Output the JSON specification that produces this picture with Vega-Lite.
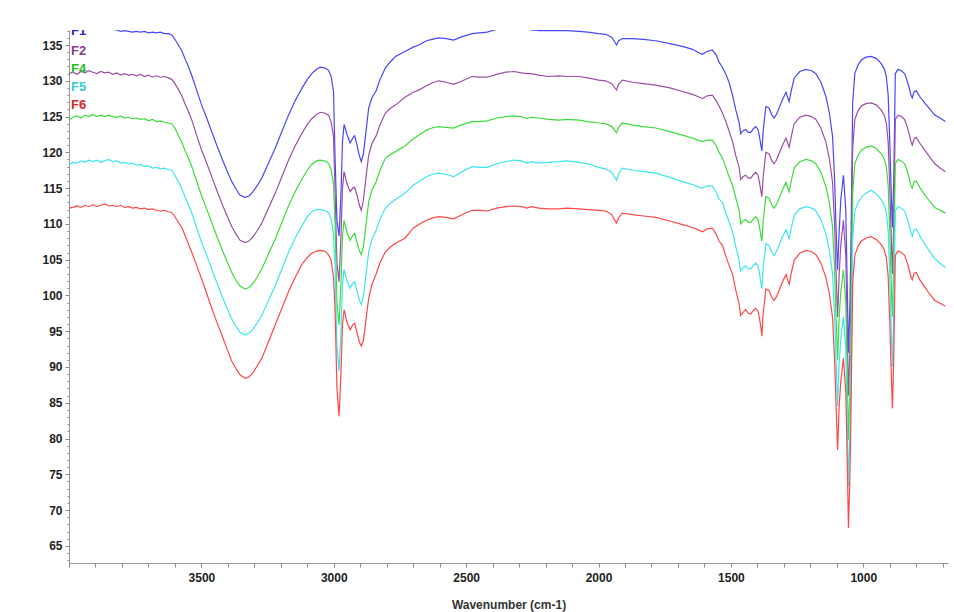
{
"$schema": "https://vega.github.io/schema/vega-lite/v6.json",
"width": 879, "height": 533,
"autosize": {"type": "none"},
"padding": {"left": 69, "top": 30, "right": 6, "bottom": 49},
"background": "white",
"config": {"view": {"stroke": null}, "font": "Liberation Sans", "axis": {"labelOverlap": false}},
"datasets": {
"spectra": [
{"x":4000,"F1":137.6,"F2":131.0,"F4":124.5,"F5":118.3,"F6":112.2},
{"x":3985,"F1":137.5,"F2":131.2,"F4":124.9,"F5":118.6,"F6":112.3},
{"x":3970,"F1":137.6,"F2":130.9,"F4":125.1,"F5":118.5,"F6":112.5},
{"x":3955,"F1":137.4,"F2":131.3,"F4":124.8,"F5":118.8,"F6":112.3},
{"x":3940,"F1":137.5,"F2":131.1,"F4":125.2,"F5":118.6,"F6":112.6},
{"x":3925,"F1":137.6,"F2":131.4,"F4":125.0,"F5":118.9,"F6":112.4},
{"x":3910,"F1":137.4,"F2":131.2,"F4":125.3,"F5":118.7,"F6":112.7},
{"x":3895,"F1":137.5,"F2":131.0,"F4":125.0,"F5":118.9,"F6":112.4},
{"x":3880,"F1":137.3,"F2":131.3,"F4":125.2,"F5":118.6,"F6":112.6},
{"x":3865,"F1":137.4,"F2":131.1,"F4":125.0,"F5":118.8,"F6":112.8},
{"x":3850,"F1":137.3,"F2":131.2,"F4":125.2,"F5":119.0,"F6":112.5},
{"x":3835,"F1":137.2,"F2":130.9,"F4":125.0,"F5":118.7,"F6":112.6},
{"x":3820,"F1":137.1,"F2":131.1,"F4":124.9,"F5":118.8,"F6":112.4},
{"x":3805,"F1":136.9,"F2":130.8,"F4":125.1,"F5":118.5,"F6":112.6},
{"x":3790,"F1":137.0,"F2":131.0,"F4":124.8,"F5":118.6,"F6":112.3},
{"x":3775,"F1":136.9,"F2":130.8,"F4":124.9,"F5":118.4,"F6":112.4},
{"x":3760,"F1":136.8,"F2":130.9,"F4":124.7,"F5":118.5,"F6":112.2},
{"x":3745,"F1":136.9,"F2":130.7,"F4":124.8,"F5":118.2,"F6":112.3},
{"x":3730,"F1":136.8,"F2":130.9,"F4":124.6,"F5":118.3,"F6":112.1},
{"x":3715,"F1":136.9,"F2":130.6,"F4":124.7,"F5":118.0,"F6":112.2},
{"x":3700,"F1":136.7,"F2":130.8,"F4":124.4,"F5":118.1,"F6":112.0},
{"x":3685,"F1":136.8,"F2":130.5,"F4":124.6,"F5":117.8,"F6":112.1},
{"x":3670,"F1":136.7,"F2":130.7,"F4":124.3,"F5":117.9,"F6":111.9},
{"x":3655,"F1":136.8,"F2":130.5,"F4":124.4,"F5":117.7,"F6":111.8},
{"x":3640,"F1":136.6,"F2":130.6,"F4":124.2,"F5":117.8,"F6":111.9},
{"x":3625,"F1":136.6,"F2":130.4,"F4":124.1,"F5":117.6,"F6":111.7},
{"x":3612,"F1":136.4,"F2":130.2,"F4":124.0,"F5":117.5,"F6":111.6},
{"x":3600,"F1":135.8,"F2":129.6,"F4":123.4,"F5":116.8,"F6":111.0},
{"x":3587,"F1":135.0,"F2":128.8,"F4":122.4,"F5":115.9,"F6":110.2},
{"x":3574,"F1":134.2,"F2":127.9,"F4":121.4,"F5":114.9,"F6":109.5},
{"x":3562,"F1":133.1,"F2":126.8,"F4":120.3,"F5":113.8,"F6":108.4},
{"x":3549,"F1":132.0,"F2":125.7,"F4":119.2,"F5":112.7,"F6":107.2},
{"x":3537,"F1":130.8,"F2":124.6,"F4":118.1,"F5":111.6,"F6":106.1},
{"x":3518,"F1":128.7,"F2":122.4,"F4":116.0,"F5":109.5,"F6":104.2},
{"x":3499,"F1":126.6,"F2":120.3,"F4":113.9,"F5":107.4,"F6":102.3},
{"x":3480,"F1":124.8,"F2":118.5,"F4":112.1,"F5":105.6,"F6":100.3},
{"x":3461,"F1":122.9,"F2":116.6,"F4":110.2,"F5":103.7,"F6":98.2},
{"x":3442,"F1":121.0,"F2":114.7,"F4":108.3,"F5":101.8,"F6":96.3},
{"x":3423,"F1":119.2,"F2":112.9,"F4":106.5,"F5":100.0,"F6":94.5},
{"x":3404,"F1":117.5,"F2":111.2,"F4":104.8,"F5":98.3,"F6":92.6},
{"x":3385,"F1":115.9,"F2":109.6,"F4":103.2,"F5":96.7,"F6":90.8},
{"x":3368,"F1":114.8,"F2":108.5,"F4":102.0,"F5":95.6,"F6":89.7},
{"x":3354,"F1":114.0,"F2":107.7,"F4":101.3,"F5":94.8,"F6":88.9},
{"x":3335,"F1":113.7,"F2":107.4,"F4":100.9,"F5":94.5,"F6":88.4},
{"x":3320,"F1":113.9,"F2":107.6,"F4":101.1,"F5":94.7,"F6":88.6},
{"x":3305,"F1":114.5,"F2":108.2,"F4":101.7,"F5":95.3,"F6":89.2},
{"x":3290,"F1":115.3,"F2":109.0,"F4":102.5,"F5":96.1,"F6":90.1},
{"x":3272,"F1":116.4,"F2":110.1,"F4":103.7,"F5":97.2,"F6":91.2},
{"x":3250,"F1":118.2,"F2":111.9,"F4":105.5,"F5":99.0,"F6":93.2},
{"x":3221,"F1":120.6,"F2":114.3,"F4":107.9,"F5":101.4,"F6":95.9},
{"x":3196,"F1":122.9,"F2":116.6,"F4":110.2,"F5":103.7,"F6":98.2},
{"x":3171,"F1":125.2,"F2":118.9,"F4":112.5,"F5":106.0,"F6":100.5},
{"x":3146,"F1":127.2,"F2":120.9,"F4":114.5,"F5":108.0,"F6":102.5},
{"x":3121,"F1":128.9,"F2":122.6,"F4":116.2,"F5":109.7,"F6":104.3},
{"x":3100,"F1":130.2,"F2":123.9,"F4":117.5,"F5":111.0,"F6":105.3},
{"x":3083,"F1":131.0,"F2":124.7,"F4":118.3,"F5":111.7,"F6":105.9},
{"x":3065,"F1":131.6,"F2":125.3,"F4":118.8,"F5":112.0,"F6":106.2},
{"x":3051,"F1":131.9,"F2":125.6,"F4":118.9,"F5":112.0,"F6":106.3},
{"x":3035,"F1":131.8,"F2":125.5,"F4":118.8,"F5":111.9,"F6":106.2},
{"x":3020,"F1":131.5,"F2":125.2,"F4":118.5,"F5":111.6,"F6":105.7},
{"x":3010,"F1":130.6,"F2":124.3,"F4":117.6,"F5":110.7,"F6":104.9},
{"x":3001,"F1":128.5,"F2":122.2,"F4":115.5,"F5":108.6,"F6":102.6},
{"x":2995,"F1":119.2,"F2":114.5,"F4":110.0,"F5":104.0,"F6":98.0},
{"x":2988,"F1":110.5,"F2":104.5,"F4":99.0,"F5":93.0,"F6":87.0},
{"x":2980,"F1":108.3,"F2":101.9,"F4":95.9,"F5":89.4,"F6":83.1},
{"x":2973,"F1":114.0,"F2":108.0,"F4":101.5,"F5":95.0,"F6":89.0},
{"x":2967,"F1":121.5,"F2":115.0,"F4":108.3,"F5":101.5,"F6":96.0},
{"x":2961,"F1":123.9,"F2":117.3,"F4":110.5,"F5":103.6,"F6":98.0},
{"x":2950,"F1":122.5,"F2":115.6,"F4":108.8,"F5":102.0,"F6":96.2},
{"x":2938,"F1":121.3,"F2":114.5,"F4":107.7,"F5":101.0,"F6":95.2},
{"x":2928,"F1":122.0,"F2":115.0,"F4":108.4,"F5":101.7,"F6":95.9},
{"x":2921,"F1":122.3,"F2":115.1,"F4":108.7,"F5":101.9,"F6":96.1},
{"x":2912,"F1":121.0,"F2":114.0,"F4":107.4,"F5":100.6,"F6":94.8},
{"x":2904,"F1":119.6,"F2":112.7,"F4":106.3,"F5":99.4,"F6":93.6},
{"x":2896,"F1":118.7,"F2":111.9,"F4":105.7,"F5":98.7,"F6":92.9},
{"x":2888,"F1":119.8,"F2":113.3,"F4":106.8,"F5":99.8,"F6":93.7},
{"x":2878,"F1":123.0,"F2":116.6,"F4":110.0,"F5":103.0,"F6":96.7},
{"x":2868,"F1":126.2,"F2":119.6,"F4":113.1,"F5":106.1,"F6":99.6},
{"x":2856,"F1":127.6,"F2":121.2,"F4":114.7,"F5":107.8,"F6":101.5},
{"x":2840,"F1":128.6,"F2":122.3,"F4":115.9,"F5":109.1,"F6":103.0},
{"x":2825,"F1":130.2,"F2":123.9,"F4":117.5,"F5":110.7,"F6":104.6},
{"x":2805,"F1":131.8,"F2":125.5,"F4":119.2,"F5":112.2,"F6":106.1},
{"x":2785,"F1":132.7,"F2":126.2,"F4":119.7,"F5":112.9,"F6":106.8},
{"x":2767,"F1":133.4,"F2":126.6,"F4":120.1,"F5":113.4,"F6":107.3},
{"x":2731,"F1":134.1,"F2":127.7,"F4":120.9,"F5":114.3,"F6":108.0},
{"x":2700,"F1":134.7,"F2":128.4,"F4":121.9,"F5":115.4,"F6":109.4},
{"x":2679,"F1":135.0,"F2":128.7,"F4":122.4,"F5":115.9,"F6":109.9},
{"x":2650,"F1":135.6,"F2":129.3,"F4":123.1,"F5":116.6,"F6":110.5},
{"x":2629,"F1":135.8,"F2":129.7,"F4":123.4,"F5":116.9,"F6":110.8},
{"x":2604,"F1":136.0,"F2":130.0,"F4":123.6,"F5":117.1,"F6":111.0},
{"x":2575,"F1":135.9,"F2":129.8,"F4":123.5,"F5":116.9,"F6":110.9},
{"x":2547,"F1":135.7,"F2":129.5,"F4":123.4,"F5":116.6,"F6":110.7},
{"x":2520,"F1":136.1,"F2":129.9,"F4":123.8,"F5":117.2,"F6":111.2},
{"x":2478,"F1":136.6,"F2":130.6,"F4":124.3,"F5":118.0,"F6":111.9},
{"x":2450,"F1":136.7,"F2":130.5,"F4":124.3,"F5":117.9,"F6":111.9},
{"x":2421,"F1":136.8,"F2":130.5,"F4":124.4,"F5":117.9,"F6":111.8},
{"x":2384,"F1":137.2,"F2":130.9,"F4":124.8,"F5":118.4,"F6":112.2},
{"x":2350,"F1":137.5,"F2":131.2,"F4":125.0,"F5":118.7,"F6":112.4},
{"x":2320,"F1":137.6,"F2":131.3,"F4":125.1,"F5":118.9,"F6":112.5},
{"x":2290,"F1":137.5,"F2":131.1,"F4":125.0,"F5":118.8,"F6":112.4},
{"x":2271,"F1":137.3,"F2":131.0,"F4":124.7,"F5":118.5,"F6":112.2},
{"x":2255,"F1":137.1,"F2":131.0,"F4":124.9,"F5":118.7,"F6":112.4},
{"x":2225,"F1":137.0,"F2":130.8,"F4":124.8,"F5":118.5,"F6":112.2},
{"x":2190,"F1":137.0,"F2":130.6,"F4":124.6,"F5":118.6,"F6":112.1},
{"x":2150,"F1":137.0,"F2":130.7,"F4":124.5,"F5":118.7,"F6":112.1},
{"x":2120,"F1":137.0,"F2":130.6,"F4":124.6,"F5":118.8,"F6":112.2},
{"x":2074,"F1":136.9,"F2":130.6,"F4":124.5,"F5":118.6,"F6":112.1},
{"x":2040,"F1":136.8,"F2":130.4,"F4":124.3,"F5":118.4,"F6":112.0},
{"x":2000,"F1":136.6,"F2":130.1,"F4":124.1,"F5":117.9,"F6":111.9},
{"x":1973,"F1":136.5,"F2":130.0,"F4":124.0,"F5":117.7,"F6":111.8},
{"x":1950,"F1":136.1,"F2":129.6,"F4":123.6,"F5":117.2,"F6":111.3},
{"x":1940,"F1":135.5,"F2":129.1,"F4":123.1,"F5":116.6,"F6":110.6},
{"x":1932,"F1":135.0,"F2":128.7,"F4":122.7,"F5":116.1,"F6":110.1},
{"x":1924,"F1":135.6,"F2":129.5,"F4":123.5,"F5":117.0,"F6":110.9},
{"x":1910,"F1":135.9,"F2":130.1,"F4":124.1,"F5":117.8,"F6":111.5},
{"x":1870,"F1":135.9,"F2":129.8,"F4":123.8,"F5":117.5,"F6":111.3},
{"x":1830,"F1":135.8,"F2":129.6,"F4":123.6,"F5":117.3,"F6":111.1},
{"x":1784,"F1":135.6,"F2":129.4,"F4":123.4,"F5":117.1,"F6":110.9},
{"x":1730,"F1":135.2,"F2":129.0,"F4":122.9,"F5":116.5,"F6":110.4},
{"x":1683,"F1":134.8,"F2":128.5,"F4":122.4,"F5":115.9,"F6":109.9},
{"x":1645,"F1":134.4,"F2":128.1,"F4":122.0,"F5":115.5,"F6":109.5},
{"x":1625,"F1":134.0,"F2":127.8,"F4":121.7,"F5":115.2,"F6":109.2},
{"x":1608,"F1":133.7,"F2":127.5,"F4":121.5,"F5":115.0,"F6":108.9},
{"x":1590,"F1":134.1,"F2":127.9,"F4":121.7,"F5":115.3,"F6":109.3},
{"x":1570,"F1":134.3,"F2":128.0,"F4":121.7,"F5":115.3,"F6":109.4},
{"x":1555,"F1":133.6,"F2":127.2,"F4":120.9,"F5":114.4,"F6":108.5},
{"x":1545,"F1":132.6,"F2":126.5,"F4":120.0,"F5":113.5,"F6":107.6},
{"x":1532,"F1":131.9,"F2":125.5,"F4":119.2,"F5":113.0,"F6":107.0},
{"x":1520,"F1":131.0,"F2":124.4,"F4":118.0,"F5":111.6,"F6":105.6},
{"x":1507,"F1":129.8,"F2":123.0,"F4":116.6,"F5":110.3,"F6":104.2},
{"x":1494,"F1":128.0,"F2":121.5,"F4":115.4,"F5":108.9,"F6":103.0},
{"x":1482,"F1":126.0,"F2":119.6,"F4":113.7,"F5":106.9,"F6":100.8},
{"x":1469,"F1":124.2,"F2":117.9,"F4":111.9,"F5":104.9,"F6":98.8},
{"x":1463,"F1":122.6,"F2":116.2,"F4":110.0,"F5":103.4,"F6":97.2},
{"x":1455,"F1":123.0,"F2":116.6,"F4":110.4,"F5":103.9,"F6":97.6},
{"x":1444,"F1":123.2,"F2":116.8,"F4":110.6,"F5":104.1,"F6":98.0},
{"x":1435,"F1":122.8,"F2":116.4,"F4":110.2,"F5":103.7,"F6":97.5},
{"x":1425,"F1":122.8,"F2":116.4,"F4":110.2,"F5":103.7,"F6":97.4},
{"x":1415,"F1":123.3,"F2":116.9,"F4":110.7,"F5":104.2,"F6":97.9},
{"x":1406,"F1":123.6,"F2":117.2,"F4":111.0,"F5":104.5,"F6":98.2},
{"x":1398,"F1":123.2,"F2":116.8,"F4":110.6,"F5":104.1,"F6":97.8},
{"x":1393,"F1":122.4,"F2":116.0,"F4":109.8,"F5":103.3,"F6":97.0},
{"x":1386,"F1":120.8,"F2":114.4,"F4":108.2,"F5":101.6,"F6":95.4},
{"x":1383,"F1":120.2,"F2":113.8,"F4":107.6,"F5":101.0,"F6":94.3},
{"x":1378,"F1":123.0,"F2":116.6,"F4":110.4,"F5":103.8,"F6":97.5},
{"x":1368,"F1":126.4,"F2":120.0,"F4":113.8,"F5":107.2,"F6":100.9},
{"x":1356,"F1":126.2,"F2":119.8,"F4":113.6,"F5":107.0,"F6":100.7},
{"x":1345,"F1":125.2,"F2":118.8,"F4":112.6,"F5":106.0,"F6":99.7},
{"x":1337,"F1":124.8,"F2":118.4,"F4":112.2,"F5":105.6,"F6":99.3},
{"x":1328,"F1":125.3,"F2":118.9,"F4":112.7,"F5":106.1,"F6":99.8},
{"x":1318,"F1":126.2,"F2":119.8,"F4":113.6,"F5":107.0,"F6":100.7},
{"x":1305,"F1":127.4,"F2":121.0,"F4":114.8,"F5":108.2,"F6":101.9},
{"x":1292,"F1":128.4,"F2":122.0,"F4":115.8,"F5":109.2,"F6":102.9},
{"x":1285,"F1":127.6,"F2":121.2,"F4":115.0,"F5":108.4,"F6":102.1},
{"x":1280,"F1":127.1,"F2":120.7,"F4":114.5,"F5":107.9,"F6":101.6},
{"x":1272,"F1":128.6,"F2":122.2,"F4":116.0,"F5":109.4,"F6":103.1},
{"x":1261,"F1":130.4,"F2":124.0,"F4":117.8,"F5":111.2,"F6":104.9},
{"x":1240,"F1":131.3,"F2":124.9,"F4":118.7,"F5":112.1,"F6":105.9},
{"x":1217,"F1":131.6,"F2":125.2,"F4":119.0,"F5":112.4,"F6":106.3},
{"x":1195,"F1":131.4,"F2":125.0,"F4":118.8,"F5":112.2,"F6":106.1},
{"x":1179,"F1":131.0,"F2":124.6,"F4":118.4,"F5":111.8,"F6":105.7},
{"x":1160,"F1":129.8,"F2":123.4,"F4":117.2,"F5":110.6,"F6":104.5},
{"x":1141,"F1":127.8,"F2":121.4,"F4":115.2,"F5":108.6,"F6":102.5},
{"x":1128,"F1":125.5,"F2":119.1,"F4":112.9,"F5":106.3,"F6":100.2},
{"x":1116,"F1":122.2,"F2":115.8,"F4":109.6,"F5":103.0,"F6":96.9},
{"x":1108,"F1":116.0,"F2":109.6,"F4":103.4,"F5":96.8,"F6":90.7},
{"x":1103,"F1":109.6,"F2":103.5,"F4":97.0,"F5":91.0,"F6":85.0},
{"x":1097,"F1":103.6,"F2":97.0,"F4":91.0,"F5":84.5,"F6":78.4},
{"x":1091,"F1":109.0,"F2":103.0,"F4":97.0,"F5":90.5,"F6":84.5},
{"x":1085,"F1":113.3,"F2":107.0,"F4":100.5,"F5":94.0,"F6":88.0},
{"x":1075,"F1":116.8,"F2":110.5,"F4":103.6,"F5":97.0,"F6":91.2},
{"x":1066,"F1":111.9,"F2":105.5,"F4":99.0,"F5":92.5,"F6":86.5},
{"x":1061,"F1":102.0,"F2":96.0,"F4":89.5,"F5":83.5,"F6":77.5},
{"x":1056,"F1":92.0,"F2":86.0,"F4":79.8,"F5":73.3,"F6":67.5},
{"x":1051,"F1":98.0,"F2":92.0,"F4":86.0,"F5":80.0,"F6":74.0},
{"x":1047,"F1":106.0,"F2":100.0,"F4":94.0,"F5":88.0,"F6":82.0},
{"x":1040,"F1":127.0,"F2":120.6,"F4":114.3,"F5":107.8,"F6":101.6},
{"x":1032,"F1":131.0,"F2":124.6,"F4":118.4,"F5":111.8,"F6":105.6},
{"x":1020,"F1":132.2,"F2":125.8,"F4":119.6,"F5":113.0,"F6":106.9},
{"x":1007,"F1":132.9,"F2":126.5,"F4":120.3,"F5":113.7,"F6":107.6},
{"x":990,"F1":133.3,"F2":126.8,"F4":120.7,"F5":114.3,"F6":108.0},
{"x":970,"F1":133.4,"F2":126.9,"F4":120.9,"F5":114.7,"F6":108.2},
{"x":950,"F1":133.1,"F2":126.6,"F4":120.5,"F5":114.2,"F6":107.8},
{"x":932,"F1":132.4,"F2":125.9,"F4":119.8,"F5":113.4,"F6":107.1},
{"x":920,"F1":131.6,"F2":125.1,"F4":119.0,"F5":112.6,"F6":106.3},
{"x":913,"F1":130.6,"F2":124.1,"F4":118.0,"F5":111.6,"F6":105.3},
{"x":906,"F1":128.0,"F2":121.5,"F4":115.4,"F5":109.0,"F6":102.7},
{"x":900,"F1":121.7,"F2":115.3,"F4":109.1,"F5":102.7,"F6":96.4},
{"x":895,"F1":115.0,"F2":109.0,"F4":102.5,"F5":96.0,"F6":90.0},
{"x":890,"F1":109.5,"F2":103.0,"F4":97.0,"F5":90.0,"F6":84.2},
{"x":885,"F1":116.0,"F2":110.0,"F4":104.0,"F5":97.0,"F6":91.0},
{"x":879,"F1":131.0,"F2":124.6,"F4":118.4,"F5":111.8,"F6":105.6},
{"x":869,"F1":131.6,"F2":125.2,"F4":119.0,"F5":112.4,"F6":106.2},
{"x":856,"F1":131.4,"F2":125.0,"F4":118.8,"F5":112.2,"F6":106.0},
{"x":844,"F1":131.0,"F2":124.6,"F4":118.4,"F5":111.8,"F6":105.6},
{"x":836,"F1":130.2,"F2":123.8,"F4":117.6,"F5":111.0,"F6":104.8},
{"x":828,"F1":129.2,"F2":122.8,"F4":116.6,"F5":110.0,"F6":103.8},
{"x":820,"F1":128.0,"F2":121.5,"F4":115.3,"F5":108.8,"F6":102.6},
{"x":815,"F1":127.6,"F2":121.0,"F4":115.0,"F5":108.3,"F6":102.2},
{"x":808,"F1":128.5,"F2":121.9,"F4":115.9,"F5":109.2,"F6":103.1},
{"x":800,"F1":128.6,"F2":122.1,"F4":116.0,"F5":109.3,"F6":103.2},
{"x":785,"F1":127.7,"F2":121.2,"F4":115.0,"F5":108.2,"F6":102.1},
{"x":768,"F1":126.9,"F2":120.3,"F4":114.1,"F5":107.2,"F6":101.2},
{"x":750,"F1":126.1,"F2":119.4,"F4":113.2,"F5":106.2,"F6":100.2},
{"x":730,"F1":125.2,"F2":118.4,"F4":112.3,"F5":105.1,"F6":99.3},
{"x":710,"F1":124.8,"F2":117.8,"F4":111.9,"F5":104.5,"F6":98.9},
{"x":690,"F1":124.3,"F2":117.3,"F4":111.5,"F5":103.9,"F6":98.5}
],
"labels": [
{"name":"F1","x":3992,"y":136.9},
{"name":"F2","x":3992,"y":134.1},
{"name":"F4","x":3992,"y":131.6},
{"name":"F5","x":3992,"y":129.1},
{"name":"F6","x":3992,"y":126.6}
]
},
"layer": [
{
"data": {"name": "spectra"},
"transform": [{"fold": ["F1","F2","F4","F5","F6"], "as": ["series","value"]}],
"mark": {"type": "line", "strokeWidth": 1.2, "clip": true, "interpolate": "linear"},
"encoding": {
"x": {"field": "x", "type": "quantitative",
"scale": {"domain": [680, 4000], "reverse": true, "nice": false, "zero": false},
"axis": {"title": "Wavenumber (cm-1)", "values": [700,800,900,1000,1100,1200,1300,1400,1500,1600,1700,1800,1900,2000,2100,2200,2300,2400,2500,2600,2700,2800,2900,3000,3100,3200,3300,3400,3500,3600,3700,3800,3900,4000],
"labelExpr": "datum.value % 500 === 0 && datum.value < 4000 ? datum.value + '' : ''",
"labelOverlap": false, "labelFont": "Liberation Sans", "labelFontWeight": "bold", "labelFontSize": 12, "labelColor": "#222222", "labelPadding": 5,
"tickSize": 4, "tickColor": "#888888", "domainColor": "#999999", "grid": false,
"titleFont": "Liberation Sans", "titleFontWeight": "bold", "titleFontSize": 12, "titleColor": "#333333", "titlePadding": 16}},
"y": {"field": "value", "type": "quantitative",
"scale": {"domain": [62.6, 137.1], "nice": false, "zero": false},
"axis": {"title": null, "values": [63,64,65,66,67,68,69,70,71,72,73,74,75,76,77,78,79,80,81,82,83,84,85,86,87,88,89,90,91,92,93,94,95,96,97,98,99,100,101,102,103,104,105,106,107,108,109,110,111,112,113,114,115,116,117,118,119,120,121,122,123,124,125,126,127,128,129,130,131,132,133,134,135,136,137],
"labelExpr": "datum.value % 5 === 0 ? datum.value + '' : ''",
"labelOverlap": false, "labelFont": "Liberation Sans", "labelFontWeight": "bold", "labelFontSize": 12, "labelColor": "#222222", "labelPadding": 3,
"tickSize": {"condition": {"test": "datum.value % 5 === 0", "value": 4}, "value": 2},
"tickColor": "#888888", "domainColor": "#999999", "grid": false}},
"color": {"field": "series", "type": "nominal",
"scale": {"domain": ["F1","F2","F4","F5","F6"], "range": ["#4747ff","#9c4ea5","#3cdc3c","#3ee6ee","#ff4747"]},
"legend": null},
"order": {"field": "series"}
}
},
{
"data": {"name": "labels"},
"mark": {"type": "text", "align": "left", "baseline": "middle", "font": "Liberation Sans", "fontWeight": "bold", "fontSize": 13, "clip": true},
"encoding": {
"x": {"field": "x", "type": "quantitative",
"axis": {"title": "Wavenumber (cm-1)", "values": [700,800,900,1000,1100,1200,1300,1400,1500,1600,1700,1800,1900,2000,2100,2200,2300,2400,2500,2600,2700,2800,2900,3000,3100,3200,3300,3400,3500,3600,3700,3800,3900,4000],
"labelExpr": "datum.value % 500 === 0 && datum.value < 4000 ? datum.value + '' : ''",
"labelOverlap": false, "labelFont": "Liberation Sans", "labelFontWeight": "bold", "labelFontSize": 12, "labelColor": "#222222", "labelPadding": 5,
"tickSize": 4, "tickColor": "#888888", "domainColor": "#999999", "grid": false,
"titleFont": "Liberation Sans", "titleFontWeight": "bold", "titleFontSize": 12, "titleColor": "#333333", "titlePadding": 16}},
"y": {"field": "y", "type": "quantitative",
"axis": {"title": null, "values": [63,64,65,66,67,68,69,70,71,72,73,74,75,76,77,78,79,80,81,82,83,84,85,86,87,88,89,90,91,92,93,94,95,96,97,98,99,100,101,102,103,104,105,106,107,108,109,110,111,112,113,114,115,116,117,118,119,120,121,122,123,124,125,126,127,128,129,130,131,132,133,134,135,136,137],
"labelExpr": "datum.value % 5 === 0 ? datum.value + '' : ''",
"labelOverlap": false, "labelFont": "Liberation Sans", "labelFontWeight": "bold", "labelFontSize": 12, "labelColor": "#222222", "labelPadding": 3,
"tickSize": {"condition": {"test": "datum.value % 5 === 0", "value": 4}, "value": 2},
"tickColor": "#888888", "domainColor": "#999999", "grid": false}},
"text": {"field": "name"},
"color": {"field": "name", "type": "nominal",
"scale": {"domain": ["F1","F2","F4","F5","F6"], "range": ["#2b2bc8","#8a3a90","#22c022","#30cfd6","#e02828"]},
"legend": null}
}
}
],
"resolve": {"scale": {"color": "independent"}}
}
